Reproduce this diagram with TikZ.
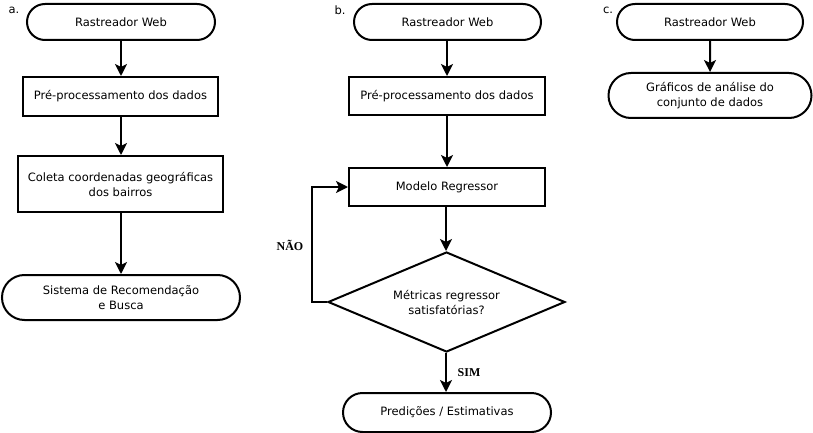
\documentclass[tikz,border=0pt]{standalone}
\usepackage{fontspec}
\setmainfont{DejaVu Sans}
\newfontfamily\lblfont{Liberation Serif}
\usetikzlibrary{shapes.misc,shapes.geometric,arrows.meta}
\begin{document}
\begin{tikzpicture}[x=1pt,y=-1pt,
  every node/.style={font=\fontsize{11.5}{15}\selectfont, line width=2pt, inner sep=0pt, align=center},
  term/.style={draw, rounded rectangle},
  proc/.style={draw, rectangle},
  dec/.style={draw, diamond, aspect=2.37},
  flow/.style={line width=2pt, -{Stealth[length=12pt,width=12pt,inset=3pt]}},
  lbl/.style={font=\lblfont\bfseries\fontsize{12}{14}\selectfont}
]
\useasboundingbox (0,0) rectangle (813,433);
% a
\node at (14,10) (la) {a.};
\node[term, minimum width=188, minimum height=36] (a1) at (121,22) {Rastreador Web};
\node[proc, minimum width=195, minimum height=39] (a2) at (120.5,96.5) {Pré-processamento dos dados};
\node[proc, minimum width=205, minimum height=56] (a3) at (120.5,184) {Coleta coordenadas geográficas\\dos bairros};
\node[term, minimum width=238, minimum height=45] (a4) at (121,297.5) {Sistema de Recomendação\\e Busca};
\draw[flow] (a1.south -| 121,0) -- (a2.north -| 121,0);
\draw[flow] (a2.south -| 121,0) -- (a3.north -| 121,0);
\draw[flow] (a3.south -| 121,0) -- (a4.north -| 121,0);
% b
\node at (340,10) (lb) {b.};
\node[term, minimum width=187, minimum height=36] (b1) at (447.5,22) {Rastreador Web};
\node[proc, minimum width=196, minimum height=38] (b2) at (447,96) {Pré-processamento dos dados};
\node[proc, minimum width=196, minimum height=38] (b3) at (447,187) {Modelo Regressor};
\node[dec, minimum width=237, minimum height=100] (b4) at (446.5,302) {Métricas regressor\\satisfatórias?};
\node[term, minimum width=208, minimum height=39] (b5) at (447,412.5) {Predições / Estimativas};
\coordinate (c1) at (312,302);
\coordinate (c2) at (312,187);
\draw[flow] (b1.south -| 447,0) -- (b2.north -| 447,0);
\draw[flow] (b2) -- (b3);
\draw[flow] (b3.south -| 446,0) -- (b4.north -| 446,0);
\draw[flow] (b4.south -| 446,0) -- (b5.north -| 446,0);
\draw[flow] (b4.west) -- (c1) -- (c2) -- (b3.west);
\node[lbl] (nao) at (290,245) {NÃO};
\node[lbl] (sim) at (469,373) {SIM};
% c
\node at (608,10) (lc) {c.};
\node[term, minimum width=186, minimum height=36] (c1n) at (710,22) {Rastreador Web};
\node[term, minimum width=203, minimum height=45] (c2n) at (710,95.5) {Gráficos de análise do\\conjunto de dados};
\draw[flow] (c1n) -- (c2n);
\end{tikzpicture}
\end{document}
